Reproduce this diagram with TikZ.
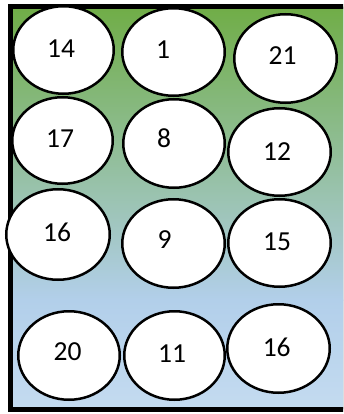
\documentclass[tikz,border=0pt]{standalone}
\usepackage{fontspec}
\setmainfont{Carlito}
\usetikzlibrary{shapes.geometric}
\definecolor{topgreen}{RGB}{112,173,71}
\definecolor{midblue}{RGB}{178,207,234}
\definecolor{lowblue}{RGB}{196,219,240}
\tikzset{
  ball/.style={ellipse, draw=black, line width=2.5pt, fill=white, inner sep=0pt},
  num/.style={inner sep=0pt, font=\fontsize{27.5}{32}\selectfont}
}
\begin{document}
\begin{tikzpicture}[x=1pt,y=-1pt]
\useasboundingbox (0,0) rectangle (343,414);
\clip (0,0) rectangle (343,414);
\fill[top color=topgreen, bottom color=midblue] (10.5,7) rectangle (350,300);
\fill[top color=midblue, bottom color=lowblue] (10.5,299.5) rectangle (350,409);
\draw[line width=5pt] (350,7) -- (10.5,7) -- (10.5,409) -- (350,409);
% row 1
\node[ball, minimum width=100.5pt, minimum height=87.5pt] (e1) at (63.5,50) {};
\node[ball, minimum width=102.5pt, minimum height=87.5pt] (e2) at (173.5,52) {};
\node[ball, minimum width=102.5pt, minimum height=88.5pt] (e3) at (285.5,58.5) {};
% row 2
\node[ball, minimum width=100.5pt, minimum height=86.5pt] (e4) at (62.5,140.5) {};
\node[ball, minimum width=101.5pt, minimum height=88.5pt] (e5) at (174,143.5) {};
\node[ball, minimum width=102.5pt, minimum height=87.5pt] (e6) at (279.5,152) {};
% row 3
\node[ball, minimum width=103.5pt, minimum height=90.5pt] (e7) at (58,234.5) {};
\node[ball, minimum width=102.5pt, minimum height=88.5pt] (e8) at (173.5,243.5) {};
\node[ball, minimum width=102.5pt, minimum height=87.5pt] (e9) at (279.5,243) {};
% row 4
\node[ball, minimum width=101.5pt, minimum height=88.5pt] (e10) at (69,355.5) {};
\node[ball, minimum width=100.5pt, minimum height=88.5pt] (e11) at (174.5,355.5) {};
\node[ball, minimum width=102.5pt, minimum height=88.5pt] (e12) at (278.5,348.5) {};
% numbers
\node[num] (t1) at (61,49) {14};
\node[num] (t2) at (163,49.5) {1};
\node[num] (t3) at (282.5,56) {21};
\node[num] (t4) at (60,138.5) {17};
\node[num] (t5) at (164,138.5) {8};
\node[num] (t6) at (277,152) {12};
\node[num] (t7) at (57,232) {16};
\node[num] (t8) at (164.5,239.5) {9};
\node[num] (t9) at (277,241.3) {15};
\node[num] (t10) at (67.5,352) {20};
\node[num] (t11) at (172,354) {11};
\node[num] (t12) at (276.7,347.5) {16};
\end{tikzpicture}
\end{document}
